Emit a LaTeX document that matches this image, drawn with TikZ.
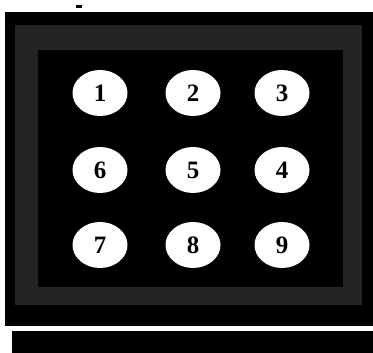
\documentclass[tikz,border=0pt]{standalone}
\usepackage{fontspec}
\setmainfont{Liberation Serif}
\usetikzlibrary{shapes.geometric}
\begin{document}
\begin{tikzpicture}[x=1pt,y=1pt,
  key/.style={ellipse,fill=white,minimum width=55pt,minimum height=46pt,inner sep=0pt,
    font=\fontsize{25}{25}\selectfont\bfseries,text=black}]
\useasboundingbox (0,0) rectangle (373,353);
\fill[white] (0,0) rectangle (373,353);
% top small mark
\fill[black] (76,345) rectangle (82,348);
% outer panel
\fill[black] (5,27) rectangle (373,341);
\fill[black!86!white] (15,48) rectangle (362,328);
\fill[black] (38,66) rectangle (343,303);
% bottom bar
\fill[black] (12,0) rectangle (373,22);
% keys
\node[key] (k1) at (100,260) {1};
\node[key] (k2) at (193,260) {2};
\node[key] (k3) at (282,260) {3};
\node[key] (k6) at (100,183) {6};
\node[key] (k5) at (193,183) {5};
\node[key] (k4) at (282,183) {4};
\node[key] (k7) at (100,108) {7};
\node[key] (k8) at (193,108) {8};
\node[key] (k9) at (282,108) {9};
\end{tikzpicture}
\end{document}
